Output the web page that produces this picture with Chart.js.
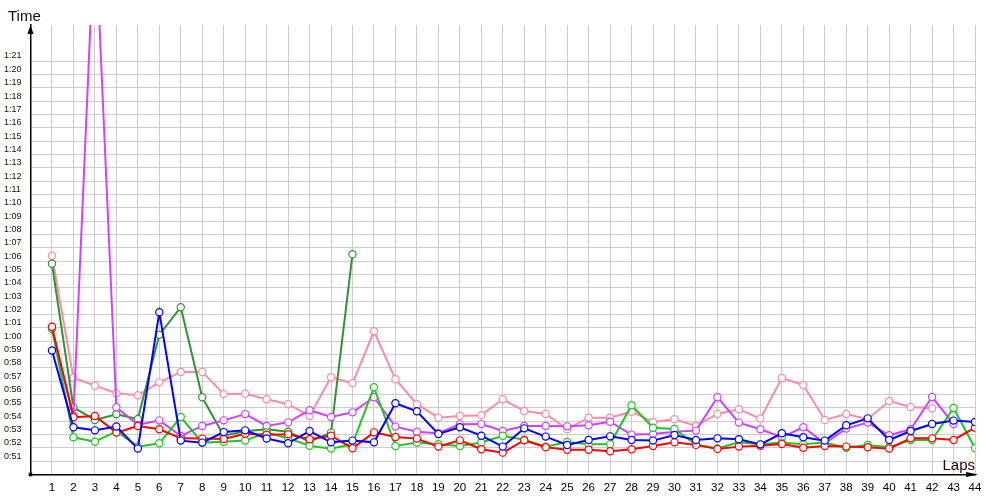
<!DOCTYPE html>
<html>
<head>
<meta charset="utf-8">
<script src="https://cdn.jsdelivr.net/npm/chart.js@4/dist/chart.umd.min.js"></script>
<style>
html,body{margin:0;padding:0;background:#fff;}
#wrap{width:1000px;height:500px;position:relative;}
</style>
</head>
<body>
<div id="wrap"><canvas id="c" width="1000" height="500"></canvas></div>
<script>
const laps = [1,2,3,4,5,6,7,8,9,10,11,12,13,14,15,16,17,18,19,20,21,22,23,24,25,26,27,28,29,30,31,32,33,34,35,36,37,38,39,40,41,42,43,44];

// lap times in seconds
const redTimes = [61.08,54.29,54.39,53.14,53.64,53.39,52.71,52.69,52.66,53.05,52.98,53.02,52.64,52.91,51.97,53.16,52.81,52.69,52.09,52.56,51.89,51.64,52.57,52.05,51.86,51.86,51.74,51.89,52.14,52.41,52.22,51.92,52.09,52.16,52.29,52.01,52.14,52.09,52.04,51.94,52.71,52.71,52.59,53.51];
const blueTimes = [59.3,53.54,53.31,53.6,51.94,62.17,52.54,52.39,53.18,53.31,52.7,52.34,53.26,52.41,52.54,52.41,55.34,54.74,53.04,53.54,52.91,52.09,53.46,52.84,52.21,52.59,52.86,52.59,52.54,52.96,52.59,52.71,52.64,52.26,53.09,52.79,52.54,53.69,54.21,52.59,53.26,53.79,54.04,53.94];
const darkGreenTimes = [65.8,55.04,54.09,54.51,54.16,60.47,62.54,55.79,52.91,53.24,53.39,53.21,52.46,53.14,66.52];
const greenTimes = [60.95,52.79,52.46,53.24,52.09,52.34,54.31,52.39,52.45,52.54,53.15,52.71,52.16,51.94,52.27,56.54,52.14,52.39,52.27,52.14,52.4,52.91,52.6,52.09,52.44,52.26,52.26,55.19,53.51,53.41,52.25,51.95,52.41,52.26,52.39,52.26,52.39,52.01,52.21,52.04,52.59,52.59,54.99,51.97];
const magentaTimes = [60.9,54.39,91.5,55.04,53.71,54.06,52.89,53.64,54.06,54.53,53.64,53.91,54.82,54.31,54.66,55.79,53.59,53.21,53.09,53.76,53.78,53.26,53.64,53.64,53.61,53.69,53.96,52.99,53.04,53.21,53.29,55.79,53.89,53.39,52.79,53.54,52.34,53.44,53.89,52.94,53.39,55.81,53.79];
const pinkTimes = [66.4,57.26,56.66,56.09,55.94,56.91,57.69,57.69,56.03,56.06,55.64,55.27,54.39,57.29,56.84,60.74,57.14,55.27,54.26,54.39,54.45,55.64,54.76,54.54,53.4,54.26,54.26,54.71,53.94,54.14,53.64,54.54,54.89,54.19,57.24,56.71,54.09,54.54,54.14,55.51,55.06,54.96];

const yTickMin = 51, yTickMax = 81;

function pts(arr){ return arr.map((v,i)=>({x:laps[i], y:v})); }
function ds(arr, color, order){
  return {
    data: pts(arr), borderColor: color, backgroundColor: '#fff',
    borderWidth: 2, pointRadius: 3.6, pointHoverRadius: 3.6,
    pointBorderWidth: 1.2, pointBackgroundColor: '#fff', pointBorderColor: color,
    tension: 0, order: order
  };
}
function fmt(v){
  const m = Math.floor(v/60), s = Math.round(v - m*60);
  return m + ':' + (s < 10 ? '0' + s : s);
}

const decor = {
  id: 'decor',
  afterDraw(chart){
    const ctx = chart.ctx, a = chart.chartArea;
    ctx.save();
    ctx.fillStyle = '#000';
    // y arrow
    ctx.beginPath();
    ctx.moveTo(a.left, a.top);
    ctx.lineTo(a.left - 3, a.top + 9);
    ctx.lineTo(a.left + 3, a.top + 9);
    ctx.closePath(); ctx.fill();
    // x arrow
    ctx.beginPath();
    ctx.moveTo(a.right + 3, a.bottom);
    ctx.lineTo(a.right - 9, a.bottom - 2.6);
    ctx.lineTo(a.right - 9, a.bottom + 2.6);
    ctx.closePath(); ctx.fill();
    // origin square
    ctx.fillRect(a.left - 1.8, a.bottom - 1.8, 3.6, 3.6);
    // titles
    ctx.font = '15px "Liberation Sans", Arial, sans-serif';
    ctx.fillStyle = '#1a0a00';
    ctx.textBaseline = 'alphabetic';
    ctx.textAlign = 'left';
    ctx.fillText('Time', 8, 21);
    ctx.textAlign = 'right';
    ctx.fillText('Laps', a.right, 470);
    ctx.restore();
  }
};

new Chart(document.getElementById('c'), {
  type: 'line',
  data: {
    datasets: [
      ds(blueTimes, '#0000ff', 1),
      ds(redTimes, '#ff0000', 2),
      ds(greenTimes, '#22c422', 3),
      ds(magentaTimes, '#cc44ff', 4),
      ds(darkGreenTimes, '#2e952e', 5),
      ds(pinkTimes, '#fb8aab', 6)
    ]
  },
  options: {
    responsive: false,
    animation: false,
    layout: { padding: { left: 4, top: 25, right: 25, bottom: 0 } },
    plugins: { legend: { display: false }, tooltip: { enabled: false } },
    scales: {
      x: {
        type: 'linear', min: 0, max: 44,
        afterFit(s){ s.height = 25.5; },
        border: { color: '#000', width: 1.5 },
        grid: {
          drawTicks: false,
          color: (c) => c.tick && c.tick.value === 0 ? 'rgba(0,0,0,0)' : '#cccccc',
          lineWidth: 1
        },
        ticks: {
          stepSize: 1, autoSkip: false, maxRotation: 0, padding: 6,
          color: '#000',
          font: { family: '"Liberation Sans", Arial, sans-serif', size: 11.5 },
          callback: (v) => (v >= 1 && v <= 44) ? String(v) : ''
        }
      },
      y: {
        type: 'linear', min: 50, max: 83.7,
        afterFit(s){ s.width = 26.5; },
        border: { color: '#000', width: 1.5 },
        grid: {
          drawTicks: false,
          color: (c) => (c.tick && c.tick.value >= yTickMin && c.tick.value <= yTickMax) ? '#cccccc' : 'rgba(0,0,0,0)',
          lineWidth: 1
        },
        ticks: {
          stepSize: 1, autoSkip: false, crossAlign: 'far', padding: 0,
          labelOffset: -5,
          color: '#1a1000',
          font: { family: '"Liberation Sans", Arial, sans-serif', size: 9 },
          callback: (v) => (v >= yTickMin && v <= yTickMax && Number.isInteger(v)) ? fmt(v) : ''
        }
      }
    }
  },
  plugins: [decor]
});
</script>
</body>
</html>
